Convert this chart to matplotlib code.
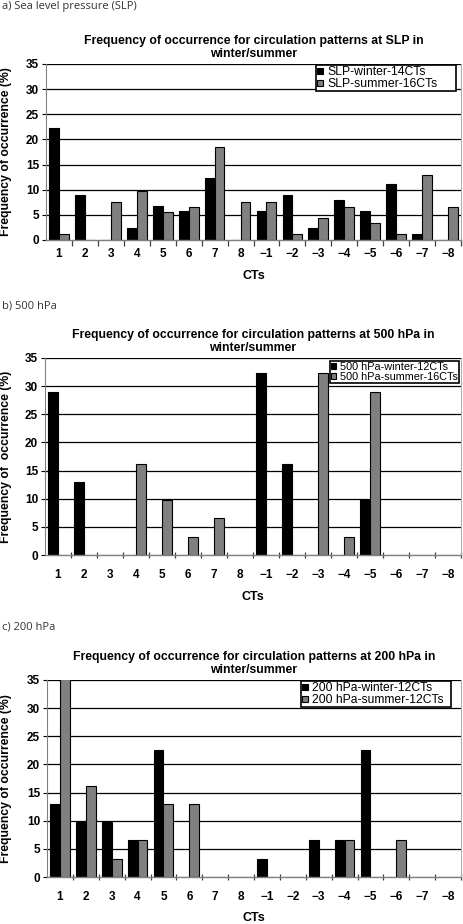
import numpy as np
from matplotlib import pyplot as plt
from matplotlib.ticker import FixedLocator

plt.rcParams['font.family'] = ['Liberation Sans', 'DejaVu Sans']

cts = ['1', '2', '3', '4', '5', '6', '7', '8',
       '\u22121', '\u22122', '\u22123', '\u22124', '\u22125', '\u22126', '\u22127', '\u22128']

slp_winter = [22.3, 9.0, 0, 2.4, 6.8, 5.7, 12.3, 0, 5.7, 9.0, 2.4, 7.9, 5.7, 11.2, 1.2, 0]
slp_summer = [1.1, 0, 7.6, 9.8, 5.5, 6.5, 18.5, 7.6, 7.6, 1.1, 4.4, 6.5, 3.3, 1.1, 13.0, 6.5]

h500_winter = [29.0, 12.9, 0, 0, 0, 0, 0, 0, 32.3, 16.1, 0, 0, 9.7, 0, 0, 0]
h500_summer = [0, 0, 0, 16.1, 9.7, 3.2, 6.5, 0, 0, 0, 32.3, 3.2, 29.0, 0, 0, 0]

h200_winter = [12.9, 9.7, 9.7, 6.5, 22.6, 0, 0, 0, 3.2, 0, 6.5, 6.5, 22.6, 0, 0, 0]
h200_summer = [35.5, 16.1, 3.2, 6.5, 12.9, 12.9, 0, 0, 0, 0, 0, 6.5, 0, 6.5, 0, 0]

W, H = 463, 924
fig = plt.figure(figsize=(W / 100, H / 100), dpi=100)

panels = [
    # label, title, winter, summer, legend names, axes px (l, r, top, bottom), label y,
    # legend box px (left, right, top), legend font size, ylabel, tick pad, CTs offset, tick dir
    ('a) Sea level pressure (SLP)', 'Frequency of occurrence for circulation patterns at SLP in\nwinter/summer',
     slp_winter, slp_summer, ('SLP-winter-14CTs', 'SLP-summer-16CTs'),
     (46, 461, 64, 240), 6, (316, 456, 65), 8.8, 'Frequency of occurrence (%)', 6, 36, 'out'),
    ('b) 500 hPa', 'Frequency of occurrence for circulation patterns at 500 hPa in\nwinter/summer',
     h500_winter, h500_summer, ('500 hPa-winter-12CTs', '500 hPa-summer-16CTs'),
     (45, 461, 358, 555), 306, (330, 459, 361), 7.8, 'Frequency of  occurrence (%)', 10, 42, 'inout'),
    ('c) 200 hPa', 'Frequency of occurrence for circulation patterns at 200 hPa in\nwinter/summer',
     h200_winter, h200_summer, ('200 hPa-winter-12CTs', '200 hPa-summer-12CTs'),
     (47, 461, 680, 877), 627, (301, 451, 681), 8.7, 'Frequency of occurrence (%)', 10, 41, 'inout'),
]

x = np.arange(1, len(cts) + 1)
bw = 0.38

for lab, title, win, summ, names, (l, r, t, b), ly, (ll, lr, lt), lfs, ylab, tpad, xoff, tdir in panels:
    ax = fig.add_axes([l / W, (H - b) / H, (r - l) / W, (b - t) / H])
    fig.text(2 / W, 1 - ly / H, lab, fontsize=8, family='Open Sans', color='#333333', va='center', ha='left')

    ax.set_axisbelow(True)
    for yv in range(5, 40, 5):
        ax.axhline(yv, color='black', lw=0.9, zorder=0)
    ax.bar(x - bw / 2, win, bw, color='black', edgecolor='black', lw=0.8, label=names[0], zorder=2)
    ax.bar(x + bw / 2, summ, bw, color='#808080', edgecolor='black', lw=0.8, label=names[1], zorder=2)

    ax.set_xlim(0.5, len(cts) + 0.5)
    ax.set_ylim(0, 35)
    ax.set_yticks(range(0, 40, 5))
    ax.set_xticks(x)
    ax.set_xticklabels(cts)
    ax.xaxis.set_minor_locator(FixedLocator(np.arange(1.5, len(cts) + 0.6, 1)))
    ax.tick_params(axis='x', which='major', length=0, pad=tpad, labelsize=8.5)
    ax.tick_params(axis='x', which='minor', length=4, width=0.9, direction=tdir, color='#404040')
    ax.tick_params(axis='y', length=3, width=0.8, pad=2, labelsize=8.5)
    for tl in ax.get_xticklabels() + ax.get_yticklabels():
        tl.set_fontweight('bold')

    ax.spines['top'].set_visible(False)
    ax.spines['right'].set_color('#b0b0b0')
    ax.spines['left'].set_color('#808080')
    ax.spines['bottom'].set_color('#808080')
    ax.spines['bottom'].set_linewidth(1.0)

    ax.set_title(title, fontsize=8.8, fontweight='bold', pad=5, linespacing=1.15)
    ax.set_ylabel(ylab, fontsize=8.8, fontweight='bold')
    ax.yaxis.set_label_coords(-(l - 12) / (r - l), 0.5)
    ax.set_xlabel('CTs', fontsize=9, fontweight='bold', va='center')
    ax.xaxis.set_label_coords(0.5, -xoff / (b - t))

    bx0 = (ll - l) / (r - l)
    bw_ax = (lr - ll) / (r - l)
    ytop = 1 - (lt - t) / (b - t)
    leg = ax.legend(loc='upper left', bbox_to_anchor=(bx0, ytop - 0.3, bw_ax, 0.3), mode='expand',
                    borderaxespad=0, fontsize=lfs, frameon=True, fancybox=False,
                    handlelength=0.45, handleheight=0.45, handletextpad=0.35,
                    borderpad=0.1, labelspacing=0.0)
    leg.get_frame().set_edgecolor('black')
    leg.get_frame().set_linewidth(1.2)
    leg.get_frame().set_alpha(1)

fig.savefig('out.png', dpi=100)
